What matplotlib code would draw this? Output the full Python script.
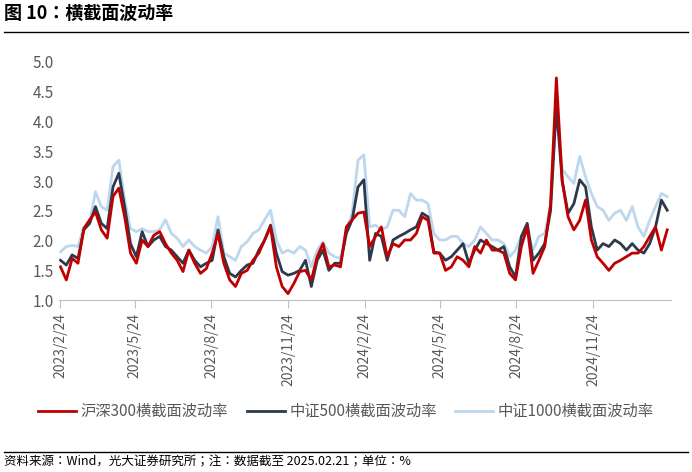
# 横截面波动率：沪深300 / 中证500 / 中证1000
import matplotlib.pyplot as plt
import pandas as pd

plt.rcParams['font.family'] = ['Noto Sans CJK SC', 'Noto Sans CJK JP', 'DejaVu Sans']
plt.rcParams['axes.unicode_minus'] = False

# weekly samples (2023-02-24 .. 2025-02-21)
dates = pd.date_range('2023-02-24', '2025-02-21', freq='W-FRI')

hs300 = [1.56, 1.34, 1.70, 1.62, 2.20, 2.35, 2.48, 2.18, 2.04, 2.74,
         2.88, 2.40, 1.79, 1.62, 2.01, 1.90, 2.09, 2.15, 1.95, 1.79,
         1.67, 1.48, 1.84, 1.62, 1.45, 1.53, 1.79, 2.12, 1.62, 1.34,
         1.23, 1.45, 1.50, 1.67, 1.79, 2.01, 2.23, 1.56, 1.23, 1.11,
         1.28, 1.48, 1.50, 1.34, 1.73, 1.95, 1.56, 1.59, 1.56, 2.23,
         2.35, 2.46, 2.48, 1.90, 2.07, 2.23, 1.73, 1.95, 1.90, 2.01,
         2.01, 2.12, 2.40, 2.34, 1.79, 1.79, 1.50, 1.56, 1.73, 1.67,
         1.56, 1.90, 1.79, 2.01, 1.84, 1.84, 1.79, 1.45, 1.34, 1.90,
         2.23, 1.45, 1.67, 1.90, 2.60, 4.73, 3.00, 2.40, 2.18, 2.34,
         2.68, 2.01, 1.73, 1.62, 1.50, 1.62, 1.67, 1.73, 1.79, 1.79,
         1.90, 2.07, 2.23, 1.84, 2.18]
zz500 = [1.67, 1.59, 1.76, 1.70, 2.18, 2.29, 2.57, 2.29, 2.20, 2.90,
         3.13, 2.57, 1.95, 1.73, 2.15, 1.90, 2.01, 2.07, 1.90, 1.84,
         1.73, 1.62, 1.84, 1.67, 1.56, 1.62, 1.67, 2.18, 1.73, 1.45,
         1.39, 1.50, 1.59, 1.62, 1.84, 2.01, 2.26, 1.79, 1.48, 1.42,
         1.45, 1.50, 1.67, 1.23, 1.67, 1.84, 1.50, 1.62, 1.62, 2.12,
         2.35, 2.90, 3.02, 1.67, 2.12, 2.07, 1.67, 2.01, 2.07, 2.12,
         2.18, 2.23, 2.46, 2.40, 1.81, 1.79, 1.67, 1.73, 1.84, 1.95,
         1.62, 1.84, 2.01, 1.95, 1.90, 1.84, 1.90, 1.56, 1.39, 2.07,
         2.29, 1.67, 1.79, 1.95, 2.50, 4.25, 3.00, 2.46, 2.62, 3.02,
         2.90, 2.23, 1.84, 1.95, 1.90, 2.01, 1.95, 1.84, 1.95, 1.84,
         1.79, 1.95, 2.23, 2.68, 2.51]
zz1000 = [1.81, 1.90, 1.92, 1.90, 2.23, 2.32, 2.82, 2.57, 2.51, 3.24,
          3.35, 2.68, 2.20, 2.15, 2.20, 2.15, 2.15, 2.18, 2.35, 2.12,
          2.04, 1.90, 2.01, 1.90, 1.84, 1.79, 1.90, 2.40, 1.79, 1.73,
          1.67, 1.90, 1.98, 2.12, 2.18, 2.35, 2.51, 2.01, 1.79, 1.84,
          1.79, 1.90, 1.84, 1.56, 1.84, 1.98, 1.79, 1.73, 1.70, 2.18,
          2.46, 3.35, 3.44, 2.23, 2.26, 2.18, 2.23, 2.51, 2.51, 2.40,
          2.79, 2.68, 2.68, 2.62, 2.12, 2.01, 2.01, 2.07, 2.07, 1.95,
          1.90, 2.01, 2.23, 2.12, 2.01, 2.01, 1.95, 1.73, 1.84, 2.07,
          2.18, 1.84, 2.07, 2.12, 2.60, 4.36, 3.20, 3.07, 2.96, 3.41,
          3.07, 2.79, 2.57, 2.51, 2.34, 2.46, 2.51, 2.34, 2.57, 2.23,
          2.07, 2.34, 2.57, 2.79, 2.74]

tick_dates = pd.to_datetime(['2023-02-24', '2023-05-24', '2023-08-24', '2023-11-24',
                             '2024-02-24', '2024-05-24', '2024-08-24', '2024-11-24'])
tick_labels = ['2023/2/24', '2023/5/24', '2023/8/24', '2023/11/24',
               '2024/2/24', '2024/5/24', '2024/8/24', '2024/11/24']

fig = plt.figure(figsize=(6.92, 4.72), dpi=100)
ax = fig.add_axes([0.085, 0.364, 0.884, 0.505])

ax.plot(dates, zz1000, color='#bdd7ee', lw=2, label='中证1000横截面波动率')
ax.plot(dates, zz500, color='#2c3a4b', lw=2, label='中证500横截面波动率')
ax.plot(dates, hs300, color='#c00000', lw=2, label='沪深300横截面波动率')

ax.set_ylim(1.0, 5.0)
ax.set_yticks([1.0, 1.5, 2.0, 2.5, 3.0, 3.5, 4.0, 4.5, 5.0])
ax.yaxis.set_major_formatter(plt.FormatStrFormatter('%.1f'))
ax.set_xlim(dates[0] - pd.Timedelta(days=2), dates[-1] + pd.Timedelta(days=4))
ax.set_xticks(tick_dates)
ax.set_xticklabels(tick_labels, rotation=90)
ax.tick_params(axis='y', length=0, labelsize=11, colors='#595959')
ax.tick_params(axis='x', length=6, direction='out', color='#bfbfbf', labelsize=10, colors='#595959')
for s in ['top', 'right', 'left']:
    ax.spines[s].set_visible(False)
ax.spines['bottom'].set_color('#bfbfbf')

h, l = ax.get_legend_handles_labels()
fig.legend(h[::-1], l[::-1], loc='center', bbox_to_anchor=(0.5, 0.128), ncol=3,
           frameon=False, fontsize=11, handlelength=2.5, handletextpad=0.3,
           columnspacing=1.2, labelcolor='#595959')

# title, rules and footer
fig.text(0.006, 0.972, '图 10：横截面波动率', fontsize=13, fontweight='bold', va='center')
fig.add_artist(plt.Line2D([0.006, 0.994], [0.932, 0.932], color='black', lw=1))
fig.add_artist(plt.Line2D([0.006, 0.994], [0.043, 0.043], color='black', lw=1))
fig.text(0.006, 0.022, '资料来源：Wind，光大证券研究所；注：数据截至 2025.02.21；单位：%',
         fontsize=9, va='center')

plt.savefig('out.png')
